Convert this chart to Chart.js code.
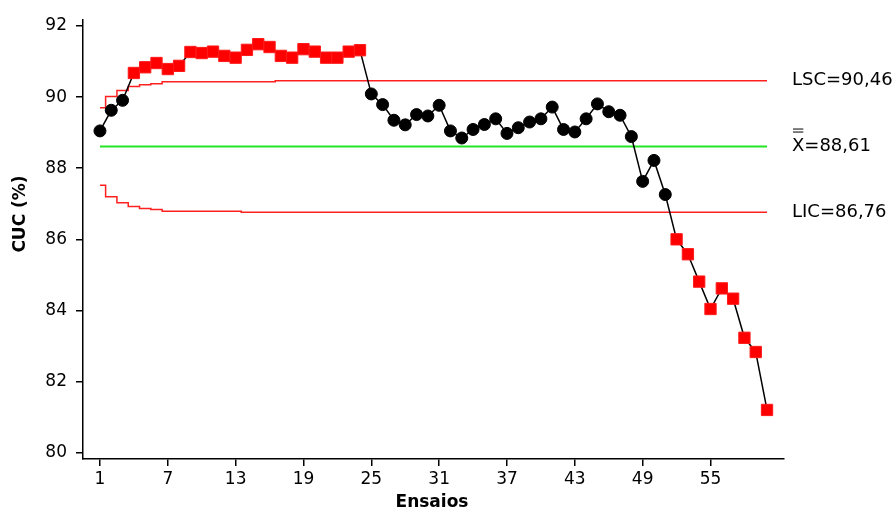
<!DOCTYPE html>
<html>
<head>
<meta charset="utf-8">
<script src="https://cdn.jsdelivr.net/npm/chart.js@4/dist/chart.umd.min.js"></script>
<style>
  html, body { margin: 0; padding: 0; background: #fff; }
  #box { width: 896px; height: 511px; }
</style>
</head>
<body>
<div id="box"><canvas id="cartaControle"></canvas></div>
<script>
// --- dados ---
const ensaios = [1, 2, 3, 4, 5, 6, 7, 8, 9, 10, 11, 12, 13, 14, 15, 16, 17, 18, 19, 20,
  21, 22, 23, 24, 25, 26, 27, 28, 29, 30, 31, 32, 33, 34, 35, 36, 37, 38, 39, 40,
  41, 42, 43, 44, 45, 46, 47, 48, 49, 50, 51, 52, 53, 54, 55, 56, 57, 58, 59, 60];

const cuc = [89.05, 89.63, 89.91, 90.68, 90.84, 90.96, 90.79, 90.88, 91.27, 91.24,
  91.28, 91.16, 91.11, 91.33, 91.49, 91.41, 91.16, 91.11, 91.35, 91.28,
  91.11, 91.11, 91.28, 91.32, 90.09, 89.79, 89.35, 89.22, 89.51, 89.47,
  89.77, 89.05, 88.85, 89.09, 89.23, 89.39, 88.98, 89.14, 89.30, 89.39,
  89.72, 89.09, 89.02, 89.39, 89.81, 89.59, 89.49, 88.89, 87.63, 88.22,
  87.26, 86.00, 85.58, 84.81, 84.04, 84.62, 84.33, 83.23, 82.83, 81.20];

// limites de controle (variam no início)
const lsc = [89.70, 90.02, 90.19, 90.30, 90.35, 90.38, 90.43, 90.43, 90.43, 90.43,
  90.43, 90.43, 90.43, 90.43, 90.43, 90.43, 90.46, 90.46, 90.46, 90.46,
  90.46, 90.46, 90.46, 90.46, 90.46, 90.46, 90.46, 90.46, 90.46, 90.46,
  90.46, 90.46, 90.46, 90.46, 90.46, 90.46, 90.46, 90.46, 90.46, 90.46,
  90.46, 90.46, 90.46, 90.46, 90.46, 90.46, 90.46, 90.46, 90.46, 90.46,
  90.46, 90.46, 90.46, 90.46, 90.46, 90.46, 90.46, 90.46, 90.46, 90.46];

const lic = [87.52, 87.20, 87.03, 86.92, 86.87, 86.84, 86.79, 86.79, 86.79, 86.79,
  86.79, 86.79, 86.79, 86.76, 86.76, 86.76, 86.76, 86.76, 86.76, 86.76,
  86.76, 86.76, 86.76, 86.76, 86.76, 86.76, 86.76, 86.76, 86.76, 86.76,
  86.76, 86.76, 86.76, 86.76, 86.76, 86.76, 86.76, 86.76, 86.76, 86.76,
  86.76, 86.76, 86.76, 86.76, 86.76, 86.76, 86.76, 86.76, 86.76, 86.76,
  86.76, 86.76, 86.76, 86.76, 86.76, 86.76, 86.76, 86.76, 86.76, 86.76];

const mediaGeral = 88.61;
const lscFinal = 90.46;
const licFinal = 86.76;

const xTicks = [1, 7, 13, 19, 25, 31, 37, 43, 49, 55];
const yTicks = [80, 82, 84, 86, 88, 90, 92];

// ponto fora de controle -> quadrado vermelho
const fora = cuc.map((v, i) => v > lsc[i] || v < lic[i]);

const fmt = v => v.toFixed(2).replace('.', ',');

Chart.defaults.font.family = "'DejaVu Sans', Verdana, sans-serif";
Chart.defaults.font.size = 17;
Chart.defaults.color = '#000';

const rotulos = {
  id: 'rotulos',
  afterDraw(chart) {
    const ctx = chart.ctx;
    const y = chart.scales.y;
    ctx.save();
    ctx.fillStyle = '#000';
    ctx.font = "18px 'DejaVu Sans'";
    ctx.textAlign = 'left';
    ctx.textBaseline = 'middle';
    const tx = 792;
    ctx.fillText('LSC=' + fmt(lscFinal), tx, y.getPixelForValue(lscFinal));
    const ym = y.getPixelForValue(mediaGeral);
    ctx.fillText('X=' + fmt(mediaGeral), tx, ym);
    // duas barras sobre o X
    const w = ctx.measureText('X').width;
    ctx.strokeStyle = '#000';
    ctx.lineWidth = 1;
    ctx.beginPath();
    ctx.moveTo(tx + 1, ym - 17.5); ctx.lineTo(tx + w - 1, ym - 17.5);
    ctx.moveTo(tx + 1, ym - 14.5); ctx.lineTo(tx + w - 1, ym - 14.5);
    ctx.stroke();
    ctx.fillText('LIC=' + fmt(licFinal), tx, y.getPixelForValue(licFinal));

    // títulos dos eixos
    ctx.font = "bold 17px 'DejaVu Sans'";
    ctx.textAlign = 'center';
    ctx.fillText('Ensaios', 432, 503);
    ctx.translate(21, 214);
    ctx.rotate(-Math.PI / 2);
    ctx.fillText('CUC (%)', 0, 0);
    ctx.restore();
  }
};

const chart = new Chart(document.getElementById('cartaControle'), {
  type: 'line',
  data: {
    datasets: [
      {
        label: 'CUC',
        data: ensaios.map((e, i) => ({ x: e, y: cuc[i] })),
        borderColor: '#000',
        borderWidth: 1.5,
        pointStyle: fora.map(f => f ? 'rect' : 'circle'),
        pointRadius: fora.map(f => f ? 8 : 6),
        pointBackgroundColor: fora.map(f => f ? '#ff0000' : '#000'),
        pointBorderColor: fora.map(f => f ? '#ff1a1a' : '#000'),
        pointBorderWidth: 1,
        tension: 0
      },
      {
        label: 'LSC',
        data: ensaios.map((e, i) => ({ x: e, y: lsc[i] })),
        borderColor: '#ff2020',
        borderWidth: 1.5,
        pointRadius: 0,
        stepped: 'middle'
      },
      {
        label: 'Média',
        data: ensaios.map(e => ({ x: e, y: mediaGeral })),
        borderColor: '#22e622',
        borderWidth: 2,
        pointRadius: 0
      },
      {
        label: 'LIC',
        data: ensaios.map((e, i) => ({ x: e, y: lic[i] })),
        borderColor: '#ff2020',
        borderWidth: 1.5,
        pointRadius: 0,
        stepped: 'middle'
      }
    ]
  },
  options: {
    responsive: true,
    maintainAspectRatio: false,
    animation: false,
    layout: { padding: { left: 0, top: 20, right: 112, bottom: 0 } },
    plugins: {
      legend: { display: false },
      tooltip: { enabled: false }
    },
    scales: {
      x: {
        type: 'linear',
        min: -0.5,
        max: 61.5,
        afterBuildTicks: s => { s.ticks = xTicks.map(v => ({ value: v })); },
        afterFit: s => { s.height = 52; },
        ticks: { padding: 3, autoSkip: false, maxRotation: 0 },
        grid: { display: true, drawOnChartArea: false, drawTicks: true, tickLength: 7, color: '#000', lineWidth: 1.5 },
        border: { display: true, color: '#000', width: 1.5 }
      },
      y: {
        min: 79.82,
        max: 92.17,
        afterBuildTicks: s => { s.ticks = yTicks.map(v => ({ value: v })); },
        afterFit: s => { s.width = 83; },
        ticks: { padding: 9 },
        grid: { display: true, drawOnChartArea: false, drawTicks: true, tickLength: 7, color: '#000', lineWidth: 1.5 },
        border: { display: true, color: '#000', width: 1.5 }
      }
    }
  },
  plugins: [rotulos]
});
</script>
</body>
</html>
